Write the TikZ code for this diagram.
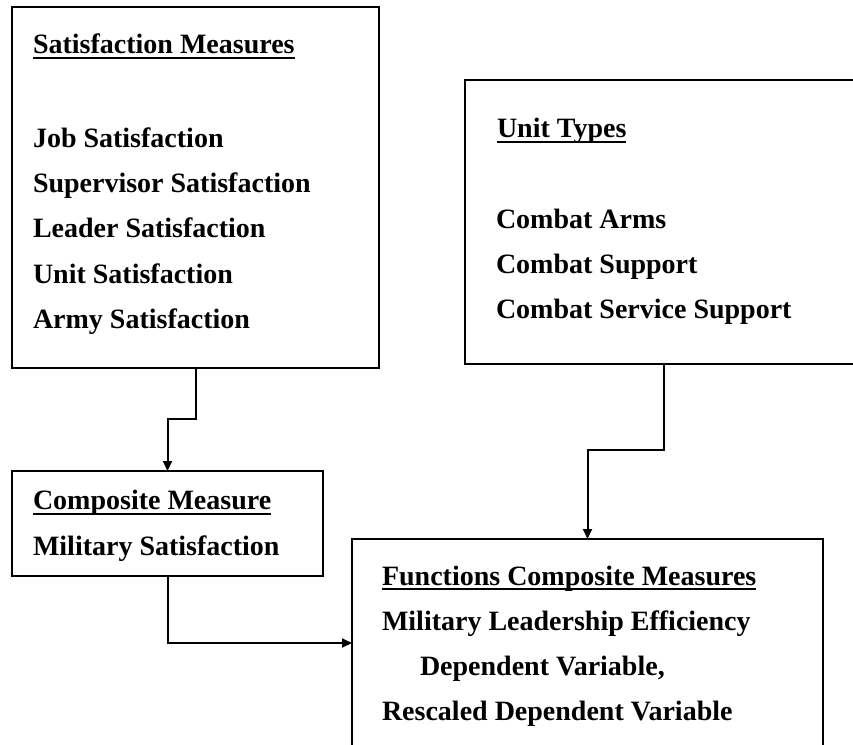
\documentclass[tikz,border=0pt]{standalone}
\usepackage{fontspec}
\setmainfont{Liberation Serif}
\usetikzlibrary{arrows.meta}
\tikzset{
  box/.style={draw, line width=2pt, rectangle, outer sep=0pt, inner sep=0pt},
  txt/.style={anchor=base west, inner sep=0pt, outer sep=0pt, font=\fontsize{28}{28}\selectfont\bfseries},
  arr/.style={line width=2pt, -{Triangle[length=10pt,width=9pt]}},
  uline/.style={line width=2pt}
}
\begin{document}
\begin{tikzpicture}[x=1pt,y=-1pt]
\useasboundingbox (0,0) rectangle (853,744);
\clip (0,0) rectangle (853,744);
% boxes
\node[box, minimum width=367pt, minimum height=361pt] (sat) at (195.5,187.5) {};
\node[box, minimum width=398pt, minimum height=284pt] (units) at (664,222) {};
\node[box, minimum width=311pt, minimum height=105pt] (comp) at (167.5,523.5) {};
\node[box, minimum width=471pt, minimum height=208pt] (func) at (587.5,643) {};
% box 1 text
\node[txt] (t1) at (33,53) {Satisfaction Measures};
\draw[uline] ([yshift=-5pt]t1.base west) -- ([yshift=-5pt]t1.base east);
\node[txt] (s1) at (33,147) {Job Satisfaction};
\node[txt] (s2) at (33,192) {Supervisor Satisfaction};
\node[txt] (s3) at (33,237) {Leader Satisfaction};
\node[txt] (s4) at (33,283) {Unit Satisfaction};
\node[txt] (s5) at (33,328) {Army Satisfaction};
% box 2 text
\node[txt] (t2) at (497,137) {Unit Types};
\draw[uline] ([yshift=-5pt]t2.base west) -- ([yshift=-5pt]t2.base east);
\node[txt] (u1) at (496,228) {Combat Arms};
\node[txt] (u2) at (496,273) {Combat Support};
\node[txt] (u3) at (496,318) {Combat Service Support};
% box 3 text
\node[txt] (t3) at (33,509) {Composite Measure};
\draw[uline] ([yshift=-5pt]t3.base west) -- ([yshift=-5pt]t3.base east);
\node[txt] (c1) at (33,555) {Military Satisfaction};
% box 4 text
\node[txt] (t4) at (382,585) {Functions Composite Measures};
\draw[uline] ([yshift=-4pt]t4.base west) -- ([yshift=-4pt]t4.base east);
\node[txt] (f1) at (382,630) {Military Leadership Efficiency};
\node[txt] (f2) at (420,675) {Dependent Variable,};
\node[txt] (f3) at (382,720) {Rescaled Dependent Variable};
% connectors
\draw[arr] (sat.south) -- ++(0,51) -| (comp.north);
\draw[arr] (units.south) -- ++(0,86) -| (func.north);
\draw[arr] (comp.south) |- (func.west);
\end{tikzpicture}
\end{document}
